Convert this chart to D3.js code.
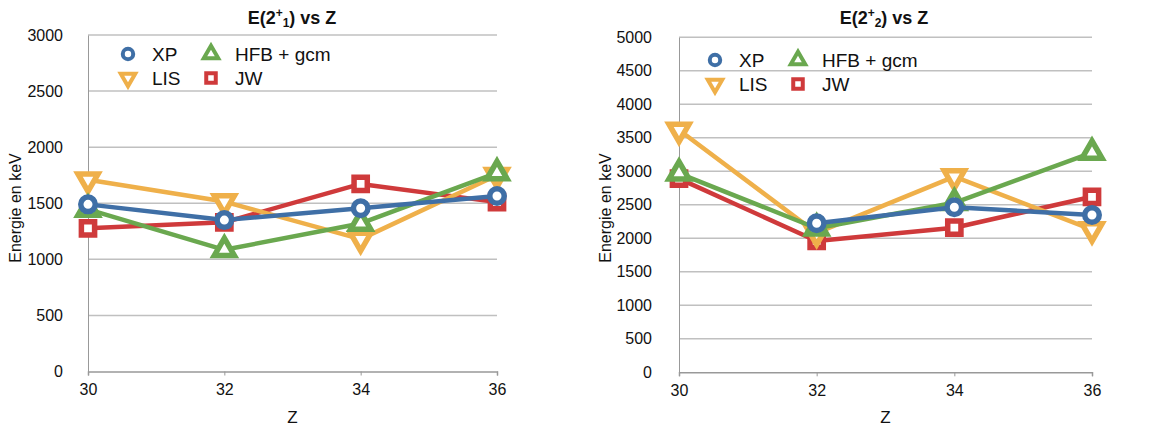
<!DOCTYPE html>
<html><head><meta charset="utf-8">
<script src="https://cdn.jsdelivr.net/npm/d3@7"></script>
<style>
body{margin:0;background:#fff;}
svg text{font-family:"Liberation Sans",Arial,Helvetica,sans-serif;fill:#111;}
</style></head>
<body><svg id="chart" width="1153" height="427"></svg>
<script>
const zValues = [30, 32, 34, 36];
const seriesNames = ["XP", "LIS", "HFB + gcm", "JW"];
// E(2+1)
const e21XP  = [1490, 1350, 1455, 1565];
const e21LIS = [1710, 1515, 1180, 1750];
const e21HFB = [1445, 1085, 1320, 1770];
const e21JW  = [1277, 1330, 1672, 1510];
// E(2+2)
const e22XP  = [null, 2224, 2463, 2348];
const e22LIS = [3616, 2080, 2920, 2130];
const e22HFB = [2970, 2150, 2530, 3280];
const e22JW  = [2890, 1960, 2158, 2620];
const yTicks1 = [0, 500, 1000, 1500, 2000, 2500, 3000];
const yTicks2 = [0, 500, 1000, 1500, 2000, 2500, 3000, 3500, 4000, 4500, 5000];

const colors = {"XP":"#3f6fa6","LIS":"#efb04a","HFB + gcm":"#6aa84f","JW":"#cf3a3b"};
const shapes = {"XP":"circle","LIS":"down","HFB + gcm":"up","JW":"square"};
const drawOrder = ["JW","LIS","HFB + gcm","XP"];

const svg = d3.select("#chart");

function marker(g, name, x, y, scale, sw){
  const s = shapes[name];
  let sym;
  if (s === "circle") sym = d3.symbol(d3.symbolCircle, 165*scale*scale);
  else if (s === "square") sym = d3.symbol(d3.symbolSquare, 175*scale*scale);
  else sym = d3.symbol(d3.symbolTriangle, 175*scale*scale);
  const rot = s === "down" ? 180 : 0;
  g.append("path").attr("d", sym())
    .attr("transform", `translate(${x},${y}) rotate(${rot})`)
    .attr("fill", "#fff").attr("stroke", colors[name]).attr("stroke-width", sw)
    .attr("stroke-linejoin", "miter");
}

function drawChart(cfg){
  const x = d3.scaleLinear().domain([30, 36]).range([cfg.x0, cfg.x1]);
  const y = d3.scaleLinear().domain([0, cfg.ymax]).range([cfg.y1, cfg.y0]);
  const g = svg.append("g");
  // gridlines
  g.selectAll(".grid").data(cfg.yTicks.filter(d=>d>0)).enter().append("line")
    .attr("x1", cfg.x0).attr("x2", cfg.x1).attr("y1", d=>y(d)).attr("y2", d=>y(d))
    .attr("stroke", "#c0c0c0").attr("stroke-width", 1.5);
  // axes
  const ya = d3.axisLeft(y).tickValues(cfg.yTicks).tickSize(0).tickPadding(cfg.ypad).tickFormat(d3.format("d"));
  const yg = g.append("g").attr("transform", `translate(${cfg.x0},0)`).call(ya);
  yg.attr("font-size", null).attr("font-family", null);
  yg.select(".domain").attr("stroke", "#999").attr("stroke-width", 1);
  yg.selectAll("text").style("font-size", "16px");
  const xa = d3.axisBottom(x).tickValues(zValues).tickSize(4).tickPadding(8).tickFormat(d3.format("d"));
  const xg = g.append("g").attr("transform", `translate(0,${cfg.y1})`).call(xa);
  xg.attr("font-size", null).attr("font-family", null);
  xg.select(".domain").attr("stroke", "#999").attr("stroke-width", 1.5);
  xg.selectAll(".tick line").attr("stroke", "#999");
  xg.selectAll("text").style("font-size", "16px");
  // titles
  const t = g.append("text").attr("x", cfg.titleX).attr("y", 24).attr("text-anchor", "middle")
    .style("font-size", "18px").style("font-weight", "bold");
  t.append("tspan").text("E(2");
  t.append("tspan").text("+").attr("dy", -7).style("font-size", "12px");
  t.append("tspan").text(cfg.sub).attr("dy", 10).style("font-size", "12px");
  t.append("tspan").text(") vs Z").attr("dy", -3);
  g.append("text").attr("x", (cfg.x0+cfg.x1)/2).attr("y", 423).attr("text-anchor", "middle")
    .style("font-size", "17px").text("Z");
  g.append("text").attr("transform", `translate(${cfg.yLabX},208) rotate(-90)`)
    .attr("text-anchor", "middle").style("font-size", "16px").text("Energie en keV");
  // series
  const line = d3.line().defined(d=>d.v!=null).x(d=>x(d.z)).y(d=>y(d.v));
  drawOrder.forEach(name=>{
    const vals = cfg.data[name];
    const pts = zValues.map((z,i)=>({z:z, v:vals[i]}));
    g.append("path").attr("d", line(pts)).attr("fill","none")
      .attr("stroke", colors[name]).attr("stroke-width", 4.5).attr("stroke-linejoin","round");
    pts.filter(p=>p.v!=null).forEach(p=>marker(g, name, x(p.z), y(p.v), 1, 5.5));
  });
  // legend
  const lg = g.append("g");
  const lpos = [[0,0],[0,1],[1,0],[1,1]];
  seriesNames.forEach((name,i)=>{
    const [c,r] = lpos[i];
    const mx = cfg.legX + c*cfg.legColW, my = cfg.legY + r*24;
    marker(lg, name, mx, my, 0.72, 4);
    lg.append("text").attr("x", mx + 24).attr("y", my + 7).style("font-size", "19px").text(name);
  });
}

drawChart({x0:88, x1:497, y0:35, y1:371.5, ymax:3000, yTicks:yTicks1, ypad:25,
  titleX:292, sub:"1", yLabX:21, legX:128, legY:54, legColW:83,
  data:{"XP":e21XP,"LIS":e21LIS,"HFB + gcm":e21HFB,"JW":e21JW}});
drawChart({x0:679, x1:1092, y0:37.3, y1:372.3, ymax:5000, yTicks:yTicks2, ypad:27,
  titleX:884, sub:"2", yLabX:611, legX:715, legY:60, legColW:83,
  data:{"XP":e22XP,"LIS":e22LIS,"HFB + gcm":e22HFB,"JW":e22JW}});
</script></body></html>
